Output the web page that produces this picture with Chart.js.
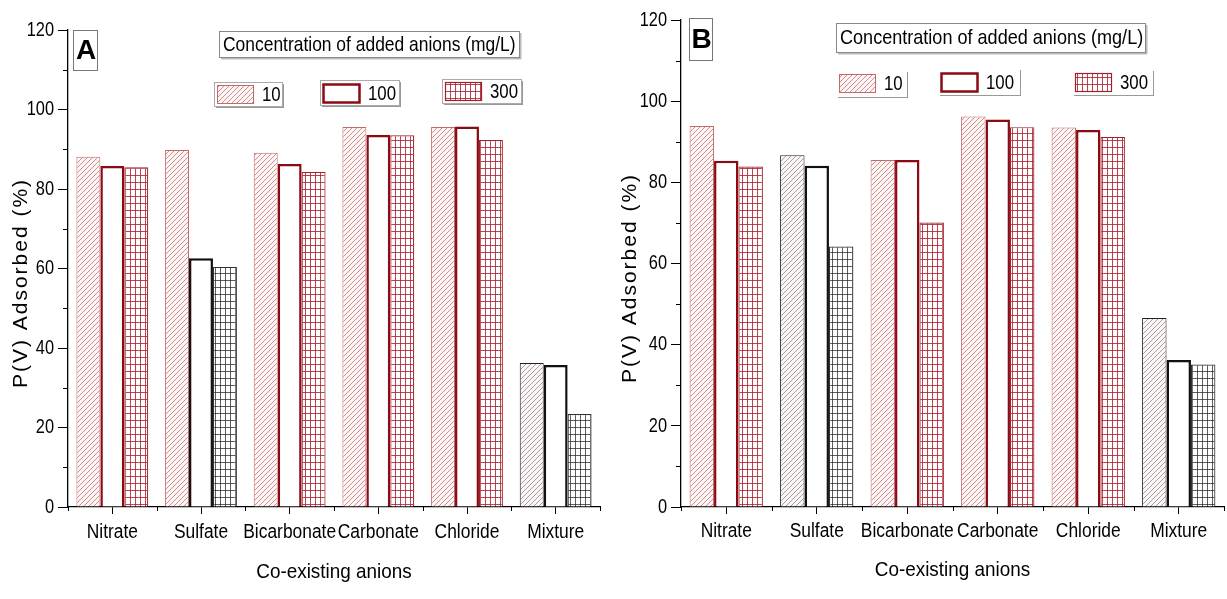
<!DOCTYPE html>
<html>
<head>
<meta charset="utf-8">
<script src="https://cdn.jsdelivr.net/npm/chart.js@4.4.0/dist/chart.umd.min.js"></script>
<style>
  body { margin: 0; background: #fff; }
  .panel { position: absolute; top: 0; height: 599px; }
</style>
</head>
<body>
<div class="panel" style="left:0;width:612px"><canvas id="chartA"></canvas></div>
<div class="panel" style="left:612px;width:615px"><canvas id="chartB"></canvas></div>
<script>
var anions = ["Nitrate", "Sulfate", "Bicarbonate", "Carbonate", "Chloride", "Mixture"];
var concLabels = ["10", "100", "300"];
var yTicks = [0, 20, 40, 60, 80, 100, 120];

// panel A, P(V) adsorbed (%)
var a10  = [88.1, 89.8, 89.1, 95.6, 95.6, 36.2];
var a100 = [85.8, 62.6, 86.3, 93.6, 95.7, 35.7];
var a300 = [85.5, 60.4, 84.3, 93.5, 92.3, 23.4];

// panel B, P(V) adsorbed (%)
var b10  = [93.9, 86.7, 85.5, 96.2, 93.5, 46.6];
var b100 = [85.3, 84.1, 85.5, 95.5, 92.9, 36.2];
var b300 = [83.9, 64.2, 70.1, 93.6, 91.2, 35.1];

// groups drawn in black instead of red, per concentration
var darkA = [["Mixture"], ["Sulfate", "Mixture"], ["Sulfate", "Mixture"]];
var darkB = [["Sulfate", "Mixture"], ["Sulfate", "Mixture"], ["Sulfate", "Mixture"]];

var FONT = '"Liberation Sans", Arial, sans-serif';

function hatch(color) {
  var c = document.createElement('canvas');
  c.width = 5; c.height = 5;
  var g = c.getContext('2d');
  g.fillStyle = '#fdf6f6'; g.fillRect(0, 0, 5, 5);
  g.strokeStyle = color; g.lineWidth = 0.8;
  g.beginPath();
  g.moveTo(0, 5); g.lineTo(5, 0);
  g.moveTo(-1, 1); g.lineTo(1, -1);
  g.moveTo(4, 6); g.lineTo(6, 4);
  g.stroke();
  return g.createPattern(c, 'repeat');
}

function grid(color) {
  var c = document.createElement('canvas');
  c.width = 5; c.height = 7;
  var g = c.getContext('2d');
  g.fillStyle = '#fff'; g.fillRect(0, 0, 5, 7);
  g.fillStyle = color;
  g.fillRect(0, 0, 1, 7);
  g.fillRect(0, 0, 5, 1);
  return g.createPattern(c, 'repeat');
}

var red = {
  fill: [hatch('rgba(195,100,100,0.9)'), '#fff', grid('rgba(175,35,50,0.85)')],
  border: ['#c26a6a', '#8b0a14', '#a0202e'],
  width: [1, 2.5, 1.2]
};
var dark = {
  fill: [hatch('rgba(110,110,110,0.8)'), '#fff', grid('rgba(40,40,40,0.75)')],
  border: ['#222', '#111', '#333'],
  width: [1.5, 2.5, 1.2]
};

function makeDatasets(series, darkList) {
  return series.map(function(vals, i) {
    return {
      label: concLabels[i],
      data: vals,
      backgroundColor: anions.map(function(n) { return darkList[i].indexOf(n) >= 0 ? dark.fill[i] : red.fill[i]; }),
      borderColor: anions.map(function(n) { return darkList[i].indexOf(n) >= 0 ? dark.border[i] : red.border[i]; }),
      borderWidth: red.width[i]
    };
  });
}

function line(ctx, x1, y1, x2, y2) {
  ctx.beginPath(); ctx.moveTo(x1, y1); ctx.lineTo(x2, y2); ctx.stroke();
}

// condensed text: the figure uses a narrow face, so squeeze horizontally
function narrow(ctx, text, x, y, size, sx, align) {
  ctx.save();
  ctx.translate(x, y);
  ctx.scale(sx, 1);
  ctx.font = size + 'px ' + FONT;
  ctx.textAlign = align;
  ctx.fillText(text, 0, 0);
  ctx.restore();
}

// tick labels, minor ticks, axis titles, panel letter and the in-plot legend
var extras = {
  id: 'extras',
  afterDraw: function(chart, args, o) {
    var ctx = chart.ctx, xs = chart.scales.x, ys = chart.scales.y, area = chart.chartArea;
    ctx.save();
    ctx.strokeStyle = '#000';
    ctx.lineWidth = 1;
    for (var v = 10; v < 120; v += 20) {
      var py = Math.round(ys.getPixelForValue(v)) + 0.5;
      line(ctx, area.left - 5, py, area.left, py);
    }
    for (var i = 0; i <= anions.length; i++) {
      var px = Math.round(xs.getPixelForValue(i - 0.5)) + 0.5;
      line(ctx, px, area.bottom, px, area.bottom + 4);
    }

    ctx.fillStyle = '#000';
    ctx.textBaseline = 'middle';
    ys.ticks.forEach(function(t) {
      narrow(ctx, String(t.value), area.left - 14, ys.getPixelForValue(t.value), 21, 0.78, 'right');
    });
    xs.ticks.forEach(function(t) {
      narrow(ctx, xs.getLabelForValue(t.value), xs.getPixelForValue(t.value), o.tickY, 20, 0.87, 'center');
    });

    // axis titles
    narrow(ctx, 'Co-existing anions', (area.left + area.right) / 2, o.xTitleY, 21, 0.9, 'center');
    ctx.save();
    ctx.translate(o.yTitleX, o.yTitleY);
    ctx.rotate(-Math.PI / 2);
    ctx.font = '21px ' + FONT;
    ctx.letterSpacing = '2px';
    ctx.textAlign = 'center';
    ctx.fillText('P(V) Adsorbed (%)', 0, 0);
    ctx.restore();

    // panel letter
    var L = o.letter;
    ctx.strokeStyle = '#777';
    ctx.strokeRect(L.x + 0.5, L.y + 0.5, L.w, L.h);
    ctx.font = 'bold 28px ' + FONT;
    ctx.textAlign = 'center';
    ctx.fillText(L.text, L.x + L.w / 2 + 1, L.y + L.h / 2 + 1);

    // legend heading
    var T = o.heading;
    ctx.strokeStyle = '#bbb';
    ctx.lineWidth = 2;
    line(ctx, T.x + 2, T.y + T.h + 1.5, T.x + T.w + 2, T.y + T.h + 1.5);
    line(ctx, T.x + T.w + 1.5, T.y + 2, T.x + T.w + 1.5, T.y + T.h + 2);
    ctx.lineWidth = 1;
    ctx.strokeStyle = '#888';
    ctx.strokeRect(T.x + 0.5, T.y + 0.5, T.w, T.h);
    narrow(ctx, 'Concentration of added anions (mg/L)', T.x + 4, T.y + T.h / 2 + 1, 21, o.headScale, 'left');

    // legend items, drawn from each dataset's red style
    chart.data.datasets.forEach(function(ds, k) {
      var it = o.items[k];
      var f = o.frames[k];
      ctx.strokeStyle = '#aaa';
      ctx.lineWidth = 1;
      if (o.boxFrames) {
        ctx.strokeRect(f.x + 0.5, f.y + 0.5, f.w, f.h);
      }
      ctx.strokeStyle = '#999';
      line(ctx, f.x + 2, f.y + f.h + 1.5, f.x + f.w + 2, f.y + f.h + 1.5);
      line(ctx, f.x + f.w + 1.5, f.y + 2, f.x + f.w + 1.5, f.y + f.h + 2);
      ctx.fillStyle = red.fill[k];
      ctx.fillRect(it.x, it.y, 36, 18);
      ctx.strokeStyle = red.border[k];
      ctx.lineWidth = red.width[k];
      ctx.strokeRect(it.x + 0.5, it.y + 0.5, 36, 18);
      ctx.fillStyle = '#000';
      narrow(ctx, ds.label, it.x + 45, it.y + 10, 21, 0.8, 'left');
    });
    ctx.restore();
  }
};

function makeChart(id, series, darkList, look) {
  return new Chart(document.getElementById(id), {
    type: 'bar',
    data: { labels: anions, datasets: makeDatasets(series, darkList) },
    options: {
      responsive: true,
      maintainAspectRatio: false,
      animation: false,
      layout: { padding: { top: look.top, right: look.right, left: 0, bottom: 0 } },
      datasets: { bar: { categoryPercentage: 0.81, barPercentage: 1 } },
      plugins: { legend: { display: false }, tooltip: { enabled: false }, extras: look },
      scales: {
        x: {
          offset: true,
          grid: { offset: false, drawOnChartArea: false, tickLength: 7, tickColor: '#000' },
          border: { color: '#000', width: 1.3 },
          ticks: { display: false },
          afterFit: function(s) { s.height = 92; }
        },
        y: {
          min: yTicks[0],
          max: yTicks[yTicks.length - 1],
          afterBuildTicks: function(s) { s.ticks = yTicks.map(function(v) { return { value: v }; }); },
          grid: { drawOnChartArea: false, tickLength: 10, tickColor: '#000' },
          border: { color: '#000', width: 1.3 },
          ticks: { display: false },
          afterFit: function(s) { s.width = look.left; }
        }
      }
    },
    plugins: [extras]
  });
}

makeChart('chartA', [a10, a100, a300], darkA, {
  top: 30, right: 12, left: 68,
  tickY: 532, xTitleY: 572, yTitleX: 21, yTitleY: 283, headScale: 0.83,
  letter: { text: 'A', x: 73, y: 30, w: 24, h: 40 },
  heading: { x: 219, y: 31, w: 300, h: 26 },
  items: [{ x: 217, y: 85 }, { x: 323, y: 84 }, { x: 445, y: 82 }],
  frames: [{ x: 214, y: 82, w: 68, h: 24 }, { x: 320, y: 80, w: 79, h: 25 }, { x: 442, y: 79, w: 79, h: 24 }],
  boxFrames: true
});

makeChart('chartB', [b10, b100, b300], darkB, {
  top: 20, right: 3, left: 69,
  tickY: 531, xTitleY: 570, yTitleX: 18, yTitleY: 278, headScale: 0.86,
  letter: { text: 'B', x: 77, y: 18, w: 23, h: 42 },
  heading: { x: 224, y: 23, w: 309, h: 29 },
  items: [{ x: 227, y: 74 }, { x: 329, y: 73 }, { x: 463, y: 73 }],
  frames: [{ x: 224, y: 70, w: 70, h: 26 }, { x: 326, y: 68, w: 81, h: 26 }, { x: 460, y: 69, w: 80, h: 25 }],
  boxFrames: false
});
</script>
</body>
</html>
